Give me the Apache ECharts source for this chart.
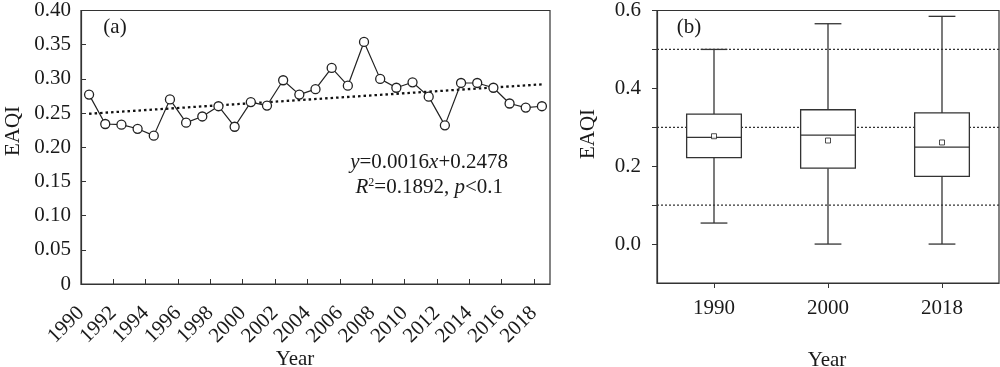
<!DOCTYPE html>
<html>
<head>
<meta charset="utf-8">
<script src="https://cdn.jsdelivr.net/npm/echarts@6/dist/echarts.min.js"></script>
<style>
html,body{margin:0;padding:0;background:#fff;}
#c{width:1000px;height:367px;}
</style>
</head>
<body>
<div id="c"></div>
<script>
// ---- Panel (a): annual EAQI series ----
const years = ['1990','1991','1992','1993','1994','1995','1996','1997','1998','1999',
  '2000','2001','2002','2003','2004','2005','2006','2007','2008','2009',
  '2010','2011','2012','2013','2014','2015','2016','2017','2018'];
const eaqi = [0.277,0.234,0.233,0.227,0.217,0.270,0.236,0.245,0.260,0.230,
  0.266,0.261,0.298,0.277,0.285,0.316,0.290,0.354,0.300,0.287,
  0.295,0.274,0.232,0.294,0.294,0.287,0.264,0.258,0.260];
const trendYears = ['1990','2018'];
const trendValues = [0.249, 0.292];
const yearTickLabels = ['1990','1992','1994','1996','1998','2000','2002','2004',
  '2006','2008','2010','2012','2014','2016','2018'];

// ---- Panel (b): box plots ----
const boxYears = ['1990','2000','2018'];
const boxMin    = [0.054, 0.000, 0.000];
const boxQ1     = [0.222, 0.195, 0.174];
const boxMedian = [0.274, 0.280, 0.249];
const boxQ3     = [0.334, 0.345, 0.337];
const boxMax    = [0.500, 0.566, 0.585];
const boxMean   = [0.277, 0.266, 0.261];
const refLines  = [0.1, 0.3, 0.5];
const rightYLabels = [0, 0.2, 0.4, 0.6];
const rightYTicks = [0, 0.1, 0.2, 0.3, 0.4, 0.5, 0.6];

const FONT = '"Liberation Serif","Times New Roman",serif';
const FS = 21;
const INK = '#1a1a1a';
const LINE = '#333';

const chart = echarts.init(document.getElementById('c'));

const boxData = boxYears.map((y,i)=>[i, boxMin[i], boxQ1[i], boxMedian[i], boxQ3[i], boxMax[i]]);

const option = {
  animation: false,
  backgroundColor: '#fff',
  textStyle: {fontFamily: FONT, color: INK},
  grid: [
    {left: 81, top: 8, width: 469, height: 276, show: true, borderColor: LINE, borderWidth: 1.2, backgroundColor: 'transparent'},
    {left: 657, top: 9, width: 342, height: 274, show: true, borderColor: LINE, borderWidth: 1.2, backgroundColor: 'transparent'}
  ],
  xAxis: [
    {type: 'category', gridIndex: 0, data: years, boundaryGap: true, show: false},
    // tick/label axis: band boundaries, one tick every two years
    {type: 'value', gridIndex: 0, min: 0, max: years.length, interval: 2, position: 'bottom',
      axisLine: {show: true, onZero: false, lineStyle: {color: LINE, width: 1.2}},
      axisTick: {show: true, inside: true, length: 5, lineStyle: {color: LINE}},
      axisLabel: {show: true, rotate: 45, margin: 26, fontSize: FS, fontFamily: FONT, color: INK,
        showMaxLabel: false,
        formatter: v => (v % 2 === 0 ? (yearTickLabels[v/2] || '') : '')},
      splitLine: {show: false}},
    {type: 'category', gridIndex: 1, data: boxYears, boundaryGap: true,
      axisLine: {show: true, onZero: false, lineStyle: {color: LINE, width: 1.2}},
      axisTick: {show: true, inside: false, alignWithLabel: true, length: 5, lineStyle: {color: LINE}},
      axisLabel: {fontSize: FS, fontFamily: FONT, color: INK, margin: 15},
      splitLine: {show: false}}
  ],
  yAxis: [
    {type: 'value', gridIndex: 0, min: 0, max: 0.4, interval: 0.05,
      axisLine: {show: true, lineStyle: {color: LINE, width: 1.2}},
      axisTick: {show: true, inside: true, length: 5, lineStyle: {color: LINE}},
      axisLabel: {fontSize: FS, fontFamily: FONT, color: INK, margin: 10,
        formatter: v => v === 0 ? '0' : v.toFixed(2)},
      splitLine: {show: false}},
    {type: 'value', gridIndex: 1, min: -0.1, max: 0.6,
      axisLine: {show: true, lineStyle: {color: LINE, width: 1.2}},
      axisTick: {show: true, inside: false, length: 5, lineStyle: {color: LINE}, customValues: rightYTicks},
      axisLabel: {fontSize: FS, fontFamily: FONT, color: INK, margin: 16, customValues: rightYLabels,
        formatter: v => v.toFixed(1)},
      splitLine: {show: false}}
  ],
  series: [
    {type: 'line', xAxisIndex: 0, yAxisIndex: 0, data: eaqi,
      symbol: 'circle', symbolSize: 9, showAllSymbol: true,
      lineStyle: {color: '#222', width: 1.2},
      itemStyle: {color: '#fff', borderColor: '#222', borderWidth: 1.3}, z: 3},
    {type: 'line', xAxisIndex: 0, yAxisIndex: 0,
      data: trendYears.map((y,i)=>[y, trendValues[i]]),
      symbol: 'none', lineStyle: {color: '#111', width: 2.3, type: [2.5,3]}, z: 2},
    {type: 'custom', xAxisIndex: 2, yAxisIndex: 1, data: boxData, z: 10,
      renderItem: function(params, api){
        const idx = api.value(0);
        const band = api.size([1,0])[0];
        const bw = band*0.48, cw = band*0.235;
        const pMin = api.coord([idx, api.value(1)]);
        const pQ1 = api.coord([idx, api.value(2)]);
        const pMed = api.coord([idx, api.value(3)]);
        const pQ3 = api.coord([idx, api.value(4)]);
        const pMax = api.coord([idx, api.value(5)]);
        const x = pMin[0];
        const st = {stroke: LINE, lineWidth: 1.3, fill: null};
        const children = [];
        if (params.dataIndex === 0) {
          const cs = params.coordSys;
          refLines.forEach(v => {
            const yy = api.coord([0, v])[1];
            children.push({type:'line', shape:{x1:cs.x, y1:yy, x2:cs.x+cs.width, y2:yy},
              style:{stroke:'#333', lineWidth:1.2, lineDash:[2,2], fill:null}});
          });
        }
        children.push(
          {type:'line', shape:{x1:x,y1:pMax[1],x2:x,y2:pQ3[1]}, style: st},
          {type:'line', shape:{x1:x,y1:pQ1[1],x2:x,y2:pMin[1]}, style: st},
          {type:'line', shape:{x1:x-cw/2,y1:pMax[1],x2:x+cw/2,y2:pMax[1]}, style: st},
          {type:'line', shape:{x1:x-cw/2,y1:pMin[1],x2:x+cw/2,y2:pMin[1]}, style: st},
          {type:'rect', shape:{x:x-bw/2,y:pQ3[1],width:bw,height:pQ1[1]-pQ3[1]}, style: {stroke: LINE, lineWidth: 1.3, fill: '#ffffff'}},
          {type:'line', shape:{x1:x-bw/2,y1:pMed[1],x2:x+bw/2,y2:pMed[1]}, style: st}
        );
        return {type: 'group', children: children};
      }},
    {type: 'scatter', xAxisIndex: 2, yAxisIndex: 1, z: 12,
      data: boxYears.map((y,i)=>[y, boxMean[i]]),
      symbol: 'rect', symbolSize: 5,
      itemStyle: {color: '#fff', borderColor: '#222', borderWidth: 1}}
  ],
  graphic: [
    {type:'text', x: 115, y: 27, style:{text:'(a)', font:FS+'px '+FONT, fill: INK, textAlign:'center', textVerticalAlign:'middle'}},
    {type:'text', x: 689, y: 27, style:{text:'(b)', font:FS+'px '+FONT, fill: INK, textAlign:'center', textVerticalAlign:'middle'}},
    {type:'text', x: 13, y: 131, rotation: Math.PI/2, style:{text:'EAQI', font:FS+'px '+FONT, fill: INK, textAlign:'center', textVerticalAlign:'middle'}},
    {type:'text', x: 588, y: 134, rotation: Math.PI/2, style:{text:'EAQI', font:FS+'px '+FONT, fill: INK, textAlign:'center', textVerticalAlign:'middle'}},
    {type:'text', x: 295, y: 359, style:{text:'Year', font:FS+'px '+FONT, fill: INK, textAlign:'center', textVerticalAlign:'middle'}},
    {type:'text', x: 827, y: 360, style:{text:'Year', font:FS+'px '+FONT, fill: INK, textAlign:'center', textVerticalAlign:'middle'}},
    {type:'text', x: 508, y: 162, style:{
      text:'{i|y}=0.0016{i|x}+0.2478', textAlign:'right', textVerticalAlign:'middle',
      font:FS+'px '+FONT, fill: INK,
      rich:{i:{fontStyle:'italic', fontSize:FS, fontFamily:FONT, fill: INK}}}},
    {type:'text', x: 503, y: 187, style:{
      text:'{i|R}{s|2}=0.1892, {i|p}<0.1', textAlign:'right', textVerticalAlign:'middle',
      font:FS+'px '+FONT, fill: INK,
      rich:{i:{fontStyle:'italic', fontSize:FS, fontFamily:FONT, fill: INK},
            s:{fontSize:12, fontFamily:FONT, fill: INK, verticalAlign:'top', padding:[0,0,9,0]}}}}
  ]
};
chart.setOption(option);
</script>
</body>
</html>
